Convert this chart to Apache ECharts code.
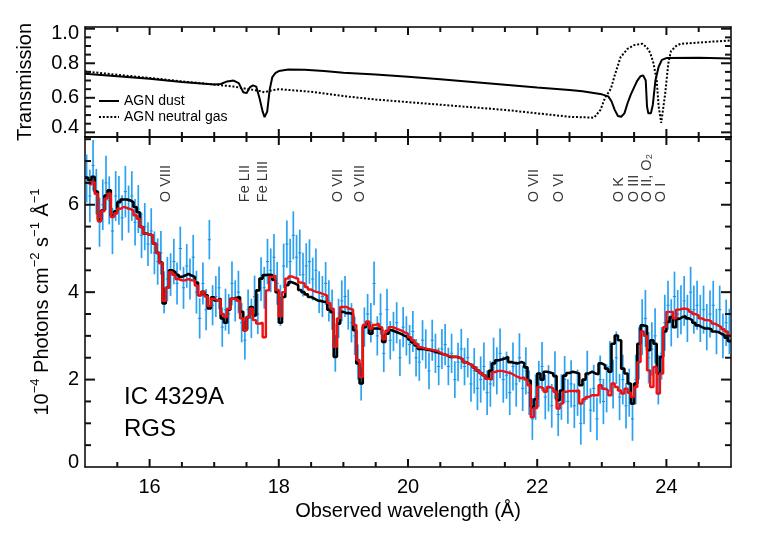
<!DOCTYPE html>
<html>
<head>
<meta charset="utf-8">
<script src="https://cdn.jsdelivr.net/npm/echarts@6.0.0/dist/echarts.min.js"></script>
<style>
  html, body { margin: 0; padding: 0; background: #fff; }
  #chart { width: 770px; height: 550px; }
</style>
</head>
<body>
<div id="chart"></div>
<script>
// wavelength grid of the RGS spectrum (bin width in Angstrom)
const waveStart = 15.0;
const binWidth = 0.05;

// model 1 (black) and model 2 (red), one value per bin, 15.0 -> 25.0 A
const blackModel = [
  6.62, 6.56, 6.64, 6.30, 5.66, 5.87, 6.21, 6.33, 5.75, 5.85,
  6.06, 6.12, 6.12, 6.10, 6.06, 5.95, 5.83, 5.49, 5.34, 5.32,
  5.30, 5.11, 4.90, 4.68, 3.74, 4.10, 4.50, 4.46, 4.40, 4.35,
  4.38, 4.42, 4.38, 4.35, 4.22, 3.93, 4.01, 3.93, 3.63, 3.88,
  3.81, 3.85, 3.40, 3.30, 3.60, 3.85, 3.87, 3.89, 3.55, 3.13,
  3.43, 3.66, 3.47, 4.04, 4.31, 4.39, 4.40, 4.39, 4.28, 4.00,
  3.30, 3.89, 4.16, 4.23, 4.20, 4.16, 4.05, 4.00, 3.95, 3.89,
  3.85, 3.81, 3.80, 3.78, 3.77, 3.60, 3.54, 2.52, 3.28, 3.55,
  3.52, 3.52, 3.50, 3.13, 2.37, 1.91, 3.20, 3.28, 3.05, 3.17,
  3.17, 3.15, 2.86, 3.05, 3.13, 3.10, 3.07, 3.04, 3.00, 2.97,
  2.92, 2.85, 2.78, 2.70, 2.70, 2.68, 2.67, 2.65, 2.63, 2.60,
  2.58, 2.56, 2.52, 2.52, 2.52, 2.50, 2.46, 2.40, 2.36, 2.33,
  2.28, 2.21, 2.15, 2.10, 2.02, 2.20, 2.37, 2.44, 2.46, 2.48,
  2.52, 2.40, 2.38, 2.37, 2.40, 2.38, 2.28, 1.98, 1.37, 1.55,
  2.14, 2.00, 2.18, 2.16, 2.14, 2.08, 1.53, 1.75, 2.09, 2.15,
  2.18, 2.16, 2.14, 1.87, 2.00, 2.14, 2.18, 2.14, 2.12, 2.37,
  2.33, 2.25, 2.18, 2.82, 3.01, 2.90, 2.25, 2.14, 1.91, 1.45,
  1.91, 2.82, 3.24, 3.22, 2.67, 2.90, 2.82, 2.14, 2.52, 3.10,
  3.32, 3.43, 3.20, 3.39, 3.43, 3.45, 3.40, 3.36, 3.30, 3.24,
  3.20, 3.17, 3.17, 3.15, 3.10, 3.09, 3.05, 3.02, 2.96, 2.88
];
const redModel = [
  6.50, 6.46, 6.52, 6.25, 5.62, 5.85, 6.14, 6.25, 5.72, 5.80,
  5.91, 5.95, 5.93, 5.90, 5.87, 5.76, 5.68, 5.49, 5.34, 5.32,
  5.30, 5.11, 4.90, 4.66, 3.80, 4.10, 4.46, 4.40, 4.30, 4.27,
  4.27, 4.30, 4.27, 4.27, 4.15, 3.93, 4.01, 3.90, 3.68, 3.85,
  3.81, 3.83, 3.50, 3.43, 3.62, 3.85, 3.85, 3.80, 3.40, 3.13,
  3.43, 3.62, 3.36, 3.28, 3.30, 2.97, 4.04, 4.35, 4.38, 4.05,
  3.45, 4.00, 4.31, 4.36, 4.33, 4.31, 4.22, 4.20, 4.12, 4.06,
  4.02, 4.00, 3.98, 3.95, 3.92, 3.75, 3.62, 2.75, 3.40, 3.66,
  3.66, 3.62, 3.60, 3.25, 2.45, 2.06, 3.25, 3.33, 3.17, 3.25,
  3.28, 3.20, 2.93, 3.12, 3.20, 3.18, 3.15, 3.12, 3.08, 3.05,
  2.97, 2.90, 2.82, 2.74, 2.72, 2.70, 2.69, 2.67, 2.66, 2.62,
  2.58, 2.56, 2.53, 2.52, 2.52, 2.50, 2.46, 2.40, 2.36, 2.33,
  2.28, 2.21, 2.15, 2.10, 2.02, 2.00, 2.17, 2.20, 2.20, 2.18,
  2.16, 2.14, 2.10, 2.06, 2.03, 2.05, 2.00, 1.87, 1.14, 1.35,
  1.83, 1.80, 1.72, 1.83, 1.80, 1.72, 1.34, 1.45, 1.72, 1.74,
  1.74, 1.74, 1.75, 1.45, 1.55, 1.60, 1.64, 1.64, 1.64, 1.87,
  1.79, 1.75, 1.64, 1.91, 1.83, 1.75, 1.68, 1.79, 1.70, 1.60,
  1.83, 2.40, 3.10, 3.00, 2.21, 1.83, 2.29, 1.68, 2.14, 3.20,
  3.55, 3.55, 3.40, 3.60, 3.62, 3.62, 3.60, 3.55, 3.50, 3.47,
  3.40, 3.36, 3.36, 3.33, 3.28, 3.24, 3.20, 3.15, 3.10, 3.02
];

// measured RGS flux and 1-sigma errors per bin
const rgsFlux = [
  6.6, 6.2, 6.9, 6.3, 5.6, 6.0, 6.5, 6.1, 5.4, 6.2,
  6.1, 5.7, 6.3, 5.9, 6.2, 5.6, 5.9, 5.3, 5.5, 5.1,
  5.4, 4.9, 4.7, 4.9, 4.0, 4.3, 4.4, 4.7, 4.2, 5.0,
  4.1, 4.6, 4.3, 4.8, 4.0, 3.4, 4.2, 3.6, 5.2, 3.7,
  3.9, 4.1, 3.2, 3.6, 3.5, 4.2, 3.8, 4.0, 3.3, 2.9,
  3.6, 3.4, 3.9, 3.5, 4.3, 4.1, 4.7, 4.5, 4.8, 4.2,
  3.7, 4.6, 5.1, 4.7, 5.3, 4.8, 4.9, 4.4, 4.6, 4.7,
  4.3, 4.5, 4.0, 3.9, 4.2, 3.8, 3.6, 2.6, 3.4, 3.8,
  3.9, 3.6, 3.3, 3.0, 2.4, 1.9, 3.2, 3.5, 3.3, 4.2,
  3.0, 3.5, 2.6, 3.6, 2.9, 3.1, 3.3, 2.5, 3.2, 3.0,
  2.8, 3.1, 2.5, 2.4, 2.9, 2.7, 2.2, 2.9, 2.6, 2.3,
  2.7, 2.8, 2.3, 2.6, 2.0, 2.4, 2.7, 2.3, 2.5, 1.9,
  2.2, 1.8, 2.0, 2.3, 1.7, 1.9, 2.4, 2.2, 2.6, 2.0,
  2.1, 1.7, 2.3, 1.9, 2.5, 1.8, 2.2, 1.7, 1.1, 1.6,
  1.9, 2.3, 1.6, 1.8, 1.4, 2.1, 1.2, 1.6, 2.0, 1.5,
  1.9, 1.4, 1.7, 1.0, 1.5, 2.1, 1.3, 1.8, 1.1, 2.0,
  1.5, 1.8, 2.3, 1.9, 2.5, 1.6, 2.0, 1.4, 1.7, 1.1,
  2.0, 2.6, 3.2, 3.4, 2.5, 2.7, 3.0, 2.0, 2.6, 3.3,
  3.7, 3.3, 3.9, 3.5, 3.6, 3.8, 3.4, 4.0, 3.6, 3.7,
  3.4, 3.6, 3.2, 3.5, 3.7, 3.1, 3.6, 3.0, 3.3, 3.1
];
const rgsErr = [
  0.55, 0.60, 0.58, 0.52, 0.56, 0.58, 0.62, 0.55, 0.53, 0.57,
  0.56, 0.52, 0.59, 0.54, 0.57, 0.53, 0.55, 0.52, 0.54, 0.50,
  0.52, 0.49, 0.53, 0.50, 0.48, 0.51, 0.49, 0.52, 0.48, 0.50,
  0.48, 0.50, 0.47, 0.51, 0.49, 0.46, 0.48, 0.47, 0.45, 0.46,
  0.47, 0.49, 0.45, 0.48, 0.46, 0.50, 0.47, 0.49, 0.45, 0.44,
  0.46, 0.45, 0.48, 0.46, 0.50, 0.48, 0.52, 0.50, 0.53, 0.49,
  0.47, 0.51, 0.54, 0.52, 0.55, 0.51, 0.53, 0.50, 0.52, 0.51,
  0.49, 0.50, 0.48, 0.47, 0.49, 0.47, 0.46, 0.42, 0.45, 0.47,
  0.47, 0.46, 0.45, 0.44, 0.40, 0.38, 0.45, 0.46, 0.45, 0.50,
  0.45, 0.47, 0.43, 0.48, 0.44, 0.45, 0.47, 0.42, 0.46, 0.45,
  0.45, 0.47, 0.43, 0.43, 0.46, 0.45, 0.42, 0.47, 0.45, 0.43,
  0.46, 0.47, 0.43, 0.45, 0.42, 0.44, 0.46, 0.43, 0.45, 0.41,
  0.52, 0.50, 0.53, 0.55, 0.51, 0.52, 0.56, 0.54, 0.57, 0.53,
  0.54, 0.51, 0.55, 0.52, 0.56, 0.52, 0.54, 0.51, 0.48, 0.52,
  0.53, 0.56, 0.51, 0.53, 0.50, 0.55, 0.49, 0.52, 0.54, 0.51,
  0.54, 0.51, 0.53, 0.49, 0.52, 0.56, 0.50, 0.54, 0.49, 0.55,
  0.52, 0.55, 0.58, 0.56, 0.60, 0.53, 0.57, 0.52, 0.55, 0.50,
  0.57, 0.60, 0.64, 0.65, 0.59, 0.61, 0.63, 0.57, 0.60, 0.64,
  0.56, 0.54, 0.57, 0.55, 0.56, 0.57, 0.54, 0.58, 0.55, 0.56,
  0.54, 0.55, 0.53, 0.54, 0.56, 0.52, 0.55, 0.51, 0.53, 0.52
];

// transmission curves (top panel)
const dustWave = [15.0, 15.5, 16.0, 16.5, 17.0, 17.1, 17.2, 17.3, 17.38, 17.45, 17.5, 17.55, 17.6, 17.65, 17.7, 17.75, 17.78, 17.82, 17.86, 17.9, 17.95, 18.0, 18.15, 18.4, 18.7, 19.0, 19.5, 20.0, 20.5, 21.0, 21.5, 22.0, 22.5, 22.7, 23.0, 23.1, 23.15, 23.2, 23.25, 23.3, 23.35, 23.4, 23.45, 23.5, 23.55, 23.6, 23.64, 23.68, 23.7, 23.72, 23.76, 23.79, 23.83, 23.88, 23.93, 24.0, 24.5, 25.0];
const dustTrans = [0.739, 0.725, 0.71, 0.692, 0.677, 0.68, 0.695, 0.70, 0.685, 0.632, 0.627, 0.66, 0.672, 0.665, 0.60, 0.52, 0.488, 0.52, 0.65, 0.72, 0.745, 0.755, 0.764, 0.763, 0.755, 0.745, 0.735, 0.722, 0.708, 0.692, 0.676, 0.66, 0.645, 0.638, 0.62, 0.608, 0.58, 0.53, 0.495, 0.49, 0.51, 0.57, 0.62, 0.66, 0.70, 0.725, 0.73, 0.70, 0.55, 0.51, 0.51, 0.56, 0.70, 0.78, 0.82, 0.83, 0.832, 0.828];
const gasWave = [15.0, 15.5, 16.0, 16.5, 17.0, 17.3, 17.5, 17.7, 17.78, 17.85, 18.0, 18.5, 19.0, 19.5, 20.0, 20.5, 21.0, 21.5, 22.0, 22.5, 22.88, 22.98, 23.05, 23.14, 23.2, 23.29, 23.4, 23.5, 23.63, 23.7, 23.75, 23.8, 23.85, 23.88, 23.92, 23.95, 23.98, 24.03, 24.07, 24.15, 24.22, 24.5, 24.74, 25.0];
const gasTrans = [0.753, 0.733, 0.715, 0.695, 0.677, 0.665, 0.652, 0.64, 0.632, 0.64, 0.65, 0.635, 0.61, 0.59, 0.575, 0.56, 0.545, 0.53, 0.51, 0.49, 0.485, 0.53, 0.60, 0.652, 0.73, 0.835, 0.884, 0.905, 0.913, 0.89, 0.86, 0.80, 0.70, 0.55, 0.455, 0.46, 0.62, 0.80, 0.87, 0.90, 0.913, 0.92, 0.926, 0.932];

// absorption line identifications
const lineWave = [16.26, 17.48, 17.76, 18.92, 19.26, 21.95, 22.33, 23.27, 23.50, 23.70, 23.91];
const lineNames = ['O VIII', 'Fe LII', 'Fe LIII', 'O VII', 'O VIII', 'O VII', 'O VI', 'O K', 'O III', 'O II, O\u2082', 'O I'];

// tick marks (major ones carry the labels)
const xMajorTicks = [16, 18, 20, 22, 24];
const xMinorTicks = [15.5, 16.5, 17, 17.5, 18.5, 19, 19.5, 20.5, 21, 21.5, 22.5, 23, 23.5, 24.5];
const transMajorTicks = [0.4, 0.6, 0.8, 1.0];
const transMinorTicks = [0.45, 0.5, 0.55, 0.65, 0.7, 0.75, 0.85, 0.9, 0.95];
const fluxMajorTicks = [2, 4, 6];
const fluxMinorTicks = [0.5, 1, 1.5, 2.5, 3, 3.5, 4.5, 5, 5.5, 6.5, 7, 7.5];

const FONT = '"Liberation Sans", Arial, Helvetica, sans-serif';
const X_MIN = 15, X_MAX = 25;
const T_MIN = 0.373, T_MAX = 1.01;
const F_MIN = 0, F_MAX = 7.55;

// step-line data from bin left edges, closed at the last edge
const stepData = (vals) => {
  const out = vals.map((v, i) => [waveStart + binWidth * i, v]);
  out.push([waveStart + binWidth * vals.length, vals[vals.length - 1]]);
  return out;
};
const pairs = (xs, ys) => xs.map((x, i) => [x, ys[i]]);
const near = (v, list) => list.some((t) => Math.abs(t - v) < 1e-6);

const axisBase = (extra) => Object.assign({
  type: 'value',
  axisLine: { show: true, onZero: false, lineStyle: { color: '#000', width: 1.5 } },
  axisTick: { show: false },
  axisLabel: { show: false },
  splitLine: { show: false },
}, extra);

const xAxes = (grid, labelled) => [
  axisBase({
    gridIndex: grid, position: 'bottom', min: X_MIN, max: X_MAX,
    minInterval: 2, maxInterval: 2, splitNumber: 5,
    axisLabel: labelled
      ? { show: true, fontSize: 20, color: '#000', fontFamily: FONT, margin: 10,
          formatter: (v) => (near(v, xMajorTicks) ? String(v) : '') }
      : { show: false },
    name: labelled ? 'Observed wavelength (Å)' : '',
    nameLocation: 'middle', nameGap: 34,
    nameTextStyle: { fontSize: 20, color: '#000', fontFamily: FONT },
  }),
  axisBase({ gridIndex: grid, position: 'top', min: X_MIN, max: X_MAX }),
];

const transLabel = (v) => {
  if (!near(v, transMajorTicks)) return '';
  const s = v.toFixed(1);
  if (v < 0.45) return '{lo|' + s + '}';
  if (v > 0.95) return '{hi|' + s + '}';
  return s;
};
const fluxLabel = (v) => {
  if (v === 0) return '{lo|0}';
  return near(v, fluxMajorTicks) ? String(v) : '';
};
const labelRich = { lo: { padding: [0, 0, 9, 0] }, hi: { padding: [9, 0, 0, 0] } };

const yAxes = (grid, min, max, step, formatter, name, nameGap, rich) => [
  axisBase({
    gridIndex: grid, position: 'left', min: min, max: max,
    minInterval: step, maxInterval: step, splitNumber: 4,
    axisLabel: { show: true, fontSize: 20, color: '#000', fontFamily: FONT, margin: 6,
      formatter: formatter, rich: labelRich },
    name: name, nameLocation: 'middle', nameGap: nameGap,
    nameTextStyle: { fontSize: 20, color: '#000', fontFamily: FONT, rich: rich },
  }),
  axisBase({ gridIndex: grid, position: 'right', min: min, max: max }),
];

const supRich = {
  sup: { fontSize: 13, fontFamily: FONT, color: '#000', verticalAlign: 'top', lineHeight: 26 },
};

// one tick mark per item: [x, y, side, length]; side 0 bottom, 1 top, 2 left, 3 right
const tickItems = (yBase, yMajor, yMinor) => {
  const out = [];
  [0, 1].forEach((s) => {
    xMajorTicks.forEach((v) => out.push([v, yBase, s, 8]));
    xMinorTicks.forEach((v) => out.push([v, yBase, s, 5]));
  });
  [2, 3].forEach((s) => {
    yMajor.forEach((v) => out.push([X_MIN, v, s, 10]));
    yMinor.forEach((v) => out.push([X_MIN, v, s, 6]));
  });
  return out;
};
const tickSeries = (axisIdx, yBase, yMajor, yMinor) => ({
  type: 'custom', xAxisIndex: axisIdx, yAxisIndex: axisIdx, silent: true, z: 10,
  data: tickItems(yBase, yMajor, yMinor),
  encode: { x: 0, y: 1 },
  renderItem: (params, api) => {
    const cs = params.coordSys;
    const p = api.coord([api.value(0), api.value(1)]);
    const side = api.value(2);
    const len = api.value(3);
    const st = { stroke: '#111', lineWidth: 2 };
    let shape;
    if (side === 0) shape = { x1: p[0], y1: cs.y + cs.height, x2: p[0], y2: cs.y + cs.height - len };
    else if (side === 1) shape = { x1: p[0], y1: cs.y, x2: p[0], y2: cs.y + len };
    else if (side === 2) shape = { x1: cs.x, y1: p[1], x2: cs.x + len, y2: p[1] };
    else shape = { x1: cs.x + cs.width, y1: p[1], x2: cs.x + cs.width - len, y2: p[1] };
    return { type: 'group', children: [{ type: 'line', shape: shape, style: st }] };
  },
});

// legend drawn beside the curves of the top panel
const legendX = 99, legendY = 101, legendGap = 16;

const chart = echarts.init(document.getElementById('chart'));
chart.setOption({
  animation: false,
  grid: [
    { left: 85, right: 39, top: 27, height: 110 },
    { left: 85, right: 39, top: 137, height: 330 },
  ],
  xAxis: xAxes(0, false).concat(xAxes(1, true)),
  yAxis: yAxes(0, T_MIN, T_MAX, 0.2, transLabel, 'Transmission', 50, null)
    .concat(yAxes(1, F_MIN, F_MAX, 2, fluxLabel,
      '10{sup|\u22124} Photons cm{sup|\u22122} s{sup|\u22121} Å{sup|\u22121}', 30, supRich)),
  graphic: [
    { type: 'line', shape: { x1: legendX, y1: legendY, x2: legendX + 20, y2: legendY },
      style: { stroke: '#000', lineWidth: 2 } },
    { type: 'line', shape: { x1: legendX, y1: legendY + legendGap, x2: legendX + 20, y2: legendY + legendGap },
      style: { stroke: '#000', lineWidth: 2, lineDash: [2, 1.8] } },
    { type: 'text', x: legendX + 25, y: legendY, style: { text: 'AGN dust', fontSize: 14, fontFamily: FONT, fill: '#000', verticalAlign: 'middle' } },
    { type: 'text', x: legendX + 25, y: legendY + legendGap, style: { text: 'AGN neutral gas', fontSize: 14, fontFamily: FONT, fill: '#000', verticalAlign: 'middle' } },
    { type: 'text', left: 124, top: 385, style: { text: 'IC 4329A', fontSize: 24, fontFamily: FONT, fill: '#000' } },
    { type: 'text', left: 124, top: 417, style: { text: 'RGS', fontSize: 24, fontFamily: FONT, fill: '#000' } },
  ],
  series: [
    {
      name: 'AGN dust', type: 'line', xAxisIndex: 0, yAxisIndex: 0,
      data: pairs(dustWave, dustTrans), symbol: 'none',
      lineStyle: { color: '#000', width: 2 },
    },
    {
      name: 'AGN neutral gas', type: 'line', xAxisIndex: 0, yAxisIndex: 0,
      data: pairs(gasWave, gasTrans), symbol: 'none',
      lineStyle: { color: '#000', width: 2, type: [2, 1.8] },
    },
    {
      name: 'RGS data', type: 'custom', xAxisIndex: 2, yAxisIndex: 2,
      data: rgsFlux.map((v, i) => [waveStart + binWidth * (i + 0.5), v, rgsErr[i]]),
      encode: { x: 0, y: 1 },
      renderItem: (params, api) => {
        const cs = params.coordSys;
        const x = api.value(0), y = api.value(1), e = api.value(2);
        const hi = api.coord([x, y + e]);
        const lo = api.coord([x, y - e]);
        const c = api.coord([x, y]);
        const y1 = Math.max(hi[1], cs.y), y2 = Math.min(lo[1], cs.y + cs.height);
        return {
          type: 'group',
          children: [
            { type: 'line', shape: { x1: c[0], y1: y1, x2: c[0], y2: y2 },
              style: { stroke: '#2aa2f2', lineWidth: 1.7 } },
            { type: 'line', shape: { x1: c[0] - 1.6, y1: c[1], x2: c[0] + 1.6, y2: c[1] },
              style: { stroke: '#1a8fe0', lineWidth: 1 } },
          ],
        };
      },
    },
    {
      name: 'model 1', type: 'line', xAxisIndex: 2, yAxisIndex: 2,
      data: stepData(blackModel), step: 'end', symbol: 'none',
      lineStyle: { color: '#000', width: 2.6 },
    },
    {
      name: 'model 2', type: 'line', xAxisIndex: 2, yAxisIndex: 2,
      data: stepData(redModel), step: 'end', symbol: 'none',
      lineStyle: { color: '#f01010', width: 2.4 },
    },
    {
      name: 'lines', type: 'scatter', xAxisIndex: 2, yAxisIndex: 2,
      data: lineWave.map((w, i) => ({ value: [w, 6.06], name: lineNames[i] })),
      symbolSize: 0, silent: true,
      label: {
        show: true, position: 'inside', rotate: 90, align: 'left', verticalAlign: 'middle',
        formatter: (p) => p.name, fontSize: 14.5, color: '#000', fontFamily: FONT,
      },
    },
    tickSeries(0, T_MIN, transMajorTicks, transMinorTicks),
    tickSeries(2, F_MIN, fluxMajorTicks, fluxMinorTicks),
  ],
});
</script>
</body>
</html>
